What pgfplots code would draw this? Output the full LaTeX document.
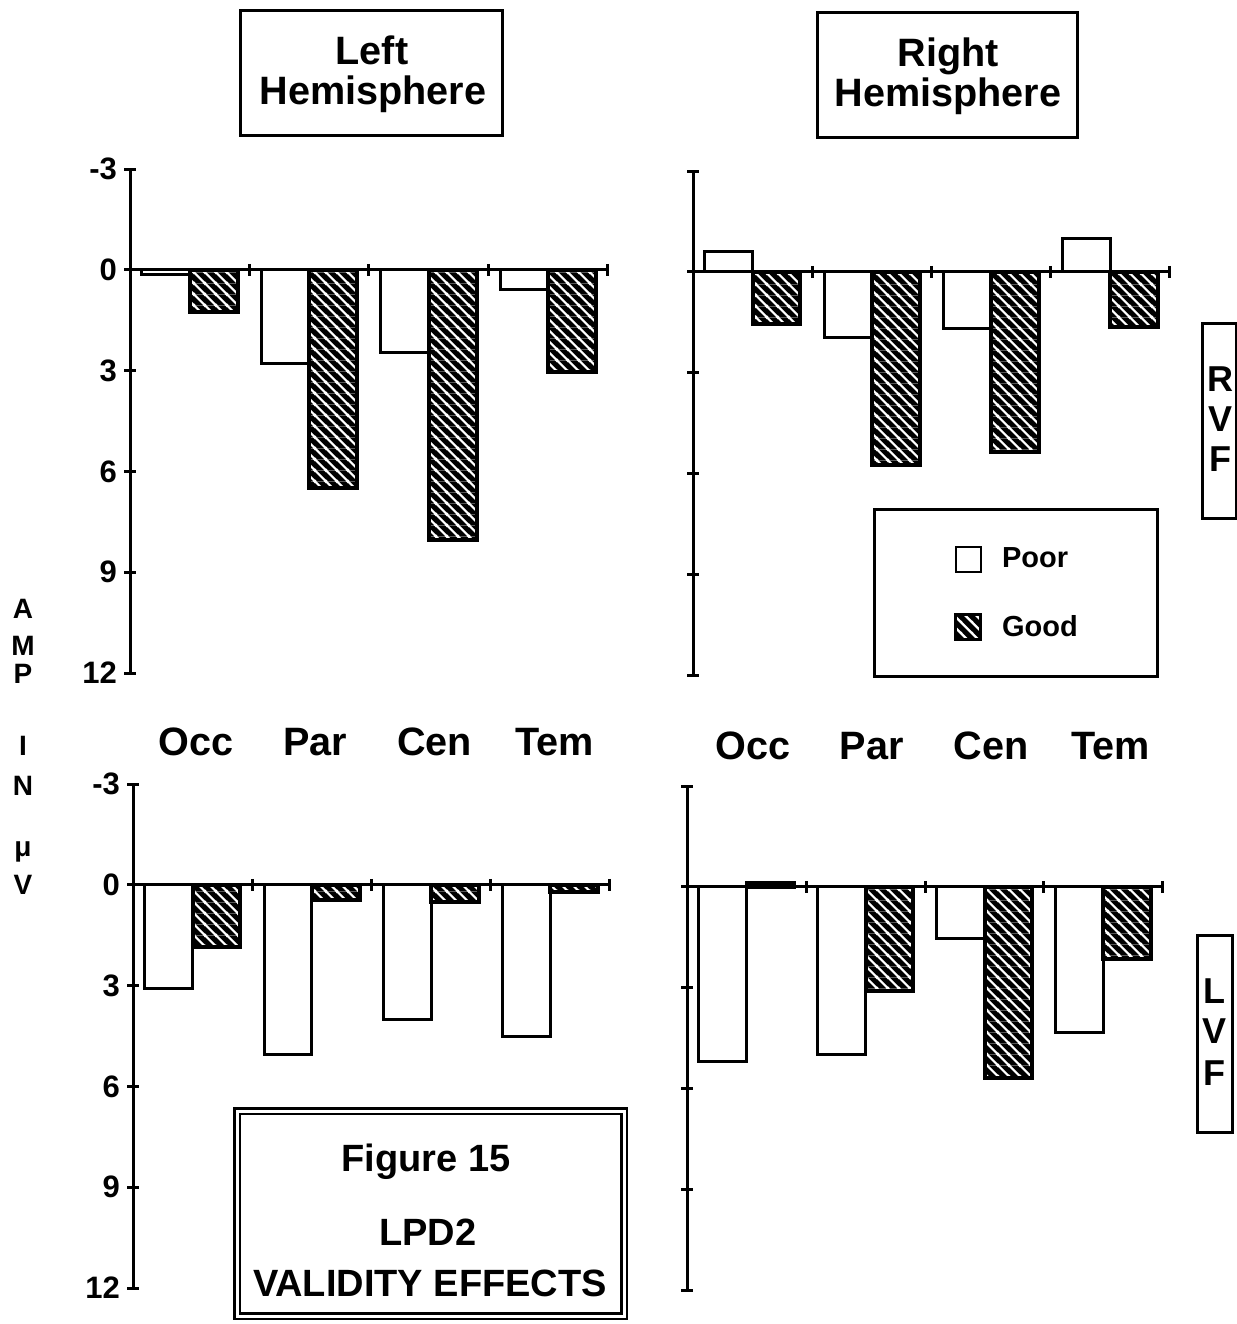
\documentclass[border=0pt]{standalone}
\usepackage{fontspec}
\setmainfont{Liberation Sans}
\usepackage{pgfplots}
\pgfplotsset{compat=1.18}
\usetikzlibrary{patterns}

\newcommand\fs[1]{\fontsize{#1}{#1}\selectfont\bfseries}

% black tile crossed by white diagonal lines
\pgfdeclarepatterninherentlycolored{whitehatch}
  {\pgfqpoint{0pt}{0pt}}{\pgfqpoint{5.4pt}{5.4pt}}{\pgfqpoint{5.4pt}{5.4pt}}
{
  \pgfsetfillcolor{black}
  \pgfpathrectangle{\pgfqpoint{0pt}{0pt}}{\pgfqpoint{5.4pt}{5.4pt}}
  \pgfusepath{fill}
  \pgfsetstrokecolor{white}
  \pgfsetlinewidth{1.1pt}
  \pgfpathmoveto{\pgfqpoint{-0.6pt}{6pt}}
  \pgfpathlineto{\pgfqpoint{6pt}{-0.6pt}}
  \pgfpathmoveto{\pgfqpoint{-1pt}{1pt}}
  \pgfpathlineto{\pgfqpoint{1pt}{-1pt}}
  \pgfpathmoveto{\pgfqpoint{4.4pt}{6.4pt}}
  \pgfpathlineto{\pgfqpoint{6.4pt}{4.4pt}}
  \pgfusepath{stroke}
}

\pgfplotsset{
  panel/.style={
    scale only axis, width=239pt, height=252pt,
    xmin=-0.5, xmax=3.5, ymin=-3, ymax=12, y dir=reverse,
    axis y line=left, axis x line=middle,
    axis line style={-, line width=1.5pt, black},
    hide obscured x ticks=false, hide obscured y ticks=false,
    ytick={-3,0,3,6,9,12},
    xtick={0.5,1.5,2.5,3.5}, xticklabels={,,,},
    tick align=center, major tick length=6pt,
    tick style={line width=1.5pt, black},
    yticklabel style={font=\fs{15.5}},
    clip=false,
  },
  cats/.style 2 args={
    extra x ticks={0,1,2,3},
    extra x tick labels={Occ,Par,Cen,Tem},
    extra x tick style={major tick length=0pt,
      xticklabel style={anchor=base, xshift=#1, yshift=#2, font=\fs{19.8}}},
  },
  poor/.style={ybar, bar width=0.4, bar shift=-0.2, fill=white, draw=black, line width=1.5pt,
    legend image code/.code={\draw[fill=white, draw=black, line width=1.2pt] (0pt,-6.25pt) rectangle (12.5pt,6.25pt);}},
  good/.style={ybar, bar width=0.4, bar shift=0.2, draw=black, line width=2pt, pattern=whitehatch,
    legend image code/.code={\draw[pattern=whitehatch, draw=black, line width=1.4pt] (0pt,-6.25pt) rectangle (12.5pt,6.25pt);}},
}

\begin{document}
\begin{tikzpicture}[x=0.5pt, y=-0.5pt]
\path[use as bounding box] (0,0) rectangle (1237,1324);

% RVF, left hemisphere
\begin{axis}[panel, at={(65pt,-336.5pt)}, yticklabels={-3,0,3,6,9,12}, cats={3pt}{-243pt}]
\addplot[poor] coordinates {(0,0.15) (1,2.8) (2,2.45) (3,0.6)};
\addplot[good] coordinates {(0,1.25) (1,6.5) (2,8.05) (3,3.05)};
\end{axis}

% RVF, right hemisphere
\begin{axis}[panel, at={(346.5pt,-337.5pt)}, width=238.5pt, yticklabels={,,,,,}, cats={0pt}{-244pt},
  legend cell align=left,
  legend style={at={(0.377,0.331)}, anchor=north west, draw=black, line width=1.5pt, fill=white,
    inner xsep=40pt, inner ysep=18pt, row sep=20pt, column sep=10pt,
    font=\fs{14.5}, nodes={inner sep=0pt}}]
\addplot[poor] coordinates {(0,-0.6) (1,1.95) (2,1.7) (3,-1.0)};
\addlegendentry{Poor}
\addplot[good] coordinates {(0,1.55) (1,5.75) (2,5.35) (3,1.65)};
\addlegendentry{Good}
\end{axis}

% LVF, left hemisphere
\begin{axis}[panel, at={(66.5pt,-644pt)}, width=238.5pt, yticklabels={-3,0,3,6,9,12}]
\addplot[poor] coordinates {(0,3.1) (1,5.05) (2,4.0) (3,4.5)};
\addplot[good] coordinates {(0,1.85) (1,0.45) (2,0.5) (3,0.2)};
\end{axis}

% LVF, right hemisphere
\begin{axis}[panel, at={(343.5pt,-645pt)}, width=238pt, yticklabels={,,,,,}]
\addplot[poor] coordinates {(0,5.2) (1,5.0) (2,1.55) (3,4.35)};
\addplot[good] coordinates {(0,-0.1) (1,3.1) (2,5.7) (3,2.15)};
\end{axis}

% hemisphere titles
\draw[line width=1.5pt] (240,10) rectangle (502,135);
\node[anchor=base, font=\fs{19.8}] at (372,64) {Left};
\node[anchor=base, font=\fs{19.8}] at (373,104) {Hemisphere};
\draw[line width=1.5pt] (817,12) rectangle (1077,137);
\node[anchor=base, font=\fs{19.8}] at (948,66) {Right};
\node[anchor=base, font=\fs{19.8}] at (948,106) {Hemisphere};

% vertical axis caption
\foreach \l/\y in {A/618, M/655, P/683, I/755, N/795, μ/856, V/894}
  \node[anchor=base, font=\fs{14}] at (23,\y) {\l};

% visual field labels
\draw[line width=1.5pt, fill=white] (1202,323) rectangle (1236,518);
\foreach \l/\y in {R/391, V/431, F/471}
  \node[anchor=base, font=\fs{18}] at (1220,\y) {\l};
\draw[line width=1.5pt, fill=white] (1197,935) rectangle (1232,1132);
\foreach \l/\y in {L/1003, V/1043, F/1085}
  \node[anchor=base, font=\fs{18}] at (1214,\y) {\l};

% figure caption box
\node[draw=black, double=white, double distance=1.5pt, line width=1.3pt, fill=white,
  minimum width=193.5pt, minimum height=102.5pt, inner sep=0pt] at (430.5,1213.5) {};
\node[anchor=base, font=\fs{19}] at (426,1171) {Figure 15};
\node[anchor=base, font=\fs{19}] at (428,1245) {LPD2};
\node[anchor=base, font=\fs{19}] at (430,1296) {VALIDITY EFFECTS};
\end{tikzpicture}
\end{document}
